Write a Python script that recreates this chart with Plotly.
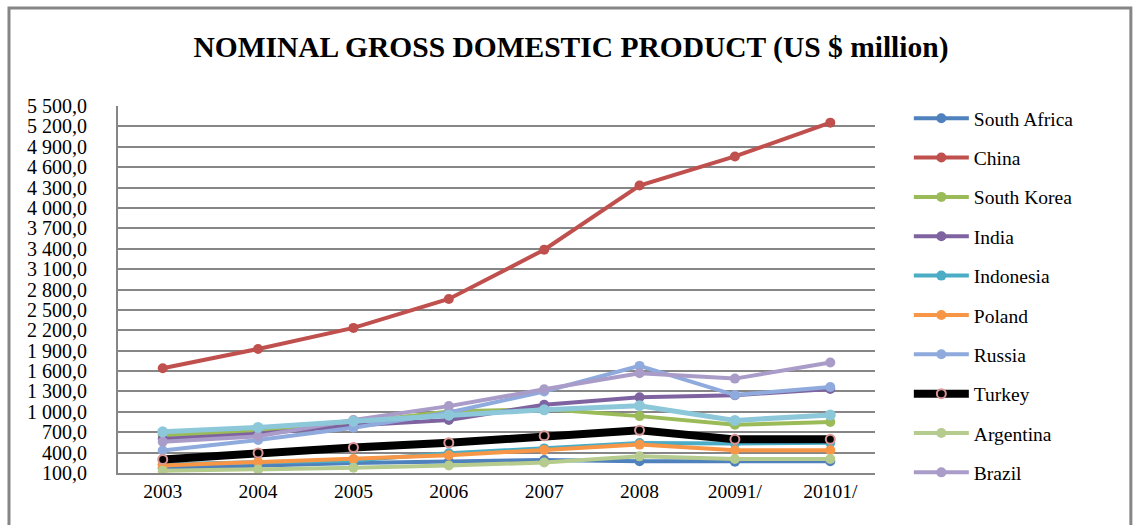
import plotly.graph_objects as go

# Years on the category axis (last two are preliminary estimates)
years = ["2003", "2004", "2005", "2006", "2007", "2008", "20091/", "20101/"]

# Nominal GDP per country
south_africa = [170, 210, 248, 270, 292, 272, 265, 272]
china = [1641, 1925, 2235, 2660, 3385, 4330, 4758, 5255]
south_korea = [650, 715, 845, 1005, 1040, 937, 810, 850]
india = [600, 676, 800, 880, 1105, 1215, 1245, 1335]
indonesia = [230, 257, 285, 390, 462, 540, 535, 545]
poland = [212, 262, 307, 360, 440, 518, 434, 434]
russia = [430, 585, 765, 990, 1300, 1676, 1247, 1365]
turkey = [300, 396, 475, 545, 648, 728, 595, 595]
argentina = [132, 150, 176, 210, 255, 345, 307, 307]
brazil = [560, 640, 880, 1084, 1331, 1568, 1489, 1726]
mexico = [706, 770, 862, 950, 1030, 1090, 873, 955]

FONT = "Liberation Serif"

series = [
    ("South Africa", south_africa, "#4F81BD"),
    ("China", china, "#C0504D"),
    ("South Korea", south_korea, "#9BBB59"),
    ("India", india, "#7F63A1"),
    ("Indonesia", indonesia, "#4BACC6"),
    ("Poland", poland, "#F79646"),
    ("Russia", russia, "#8FAADC"),
    ("Turkey", turkey, "#000000"),
    ("Argentina", argentina, "#B5CC8E"),
    ("Brazil", brazil, "#AA9CC8"),
]

fig = go.Figure()

for name, vals, color in series:
    if name == "Turkey":
        line = dict(color="#000000", width=8)
        marker = dict(size=9, color="#000000", line=dict(color="#D99694", width=2))
    else:
        line = dict(color=color, width=4)
        marker = dict(size=10, color=color)
    fig.add_trace(go.Scatter(
        x=years, y=vals, name=name, mode="lines+markers",
        line=line, marker=marker, legendgroup=name,
    ))

# eleventh series, drawn without a legend entry
fig.add_trace(go.Scatter(
    x=years, y=mexico, name="Mexico", mode="lines+markers",
    line=dict(color="#8CC8DA", width=5), marker=dict(size=11, color="#8CC8DA"),
    showlegend=False,
))

fig.update_layout(
    width=1134, height=525,
    margin=dict(l=118, r=259, t=106, b=52, autoexpand=False),
    paper_bgcolor="white", plot_bgcolor="white",
    separators=", ",
    font=dict(family=FONT, size=19, color="#000000"),
    title=dict(
        text="<b>NOMINAL GROSS DOMESTIC PRODUCT (US $ million)</b>",
        x=0.5035, xref="container", xanchor="center",
        y=0.912, yref="container", yanchor="middle",
        font=dict(family=FONT, size=29.5, color="#000000"),
    ),
    legend=dict(
        x=1.0447, xanchor="left",
        y=0.8114, yref="container", yanchor="top",
        traceorder="grouped", tracegroupgap=11, itemwidth=55,
        maxheight=480,
        font=dict(family=FONT, size=19.5),
        bgcolor="rgba(0,0,0,0)",
    ),
    showlegend=True,
)

fig.update_xaxes(
    type="category", showgrid=False, showline=True,
    linecolor="#868686", linewidth=2, ticks="",
    tickfont=dict(family=FONT, size=19.5),
)
fig.update_yaxes(
    range=[100, 5500], tick0=100, dtick=300, tickformat=",.1f",
    showgrid=True, gridcolor="#868686", gridwidth=2,
    showline=True, linecolor="#868686", linewidth=2,
    zeroline=False, ticks="", ticklabelstandoff=25,
    tickfont=dict(family=FONT, size=20),
)

# outer chart frame
fig.add_shape(
    type="rect", xref="paper", yref="paper",
    x0=-0.144, x1=1.338, y0=-0.2, y1=1.267,
    line=dict(color="#868686", width=3), fillcolor="rgba(0,0,0,0)",
    layer="below",
)

fig.write_html("out.html")
